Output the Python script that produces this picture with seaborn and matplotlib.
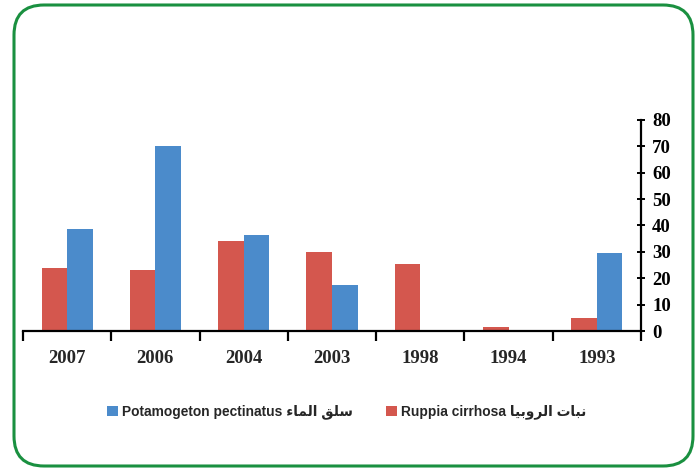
import pandas as pd
import seaborn as sns
import matplotlib.pyplot as plt
from matplotlib.patches import FancyBboxPatch, Patch

# data
years = ['2007', '2006', '2004', '2003', '1998', '1994', '1993']
ruppia = [24, 23, 34, 30, 25.5, 1.5, 5]
potamogeton = [38.5, 70, 36.5, 17.5, 0, 0, 29.5]
yticks = [0, 10, 20, 30, 40, 50, 60, 70, 80]

# Arabic written in presentation forms, visual order (no shaping in matplotlib)
ar_potamogeton = '\uFE80\uFE8E\uFEE4\uFEDF\uFE8D \uFED6\uFEE0\uFEB3'
ar_ruppia = '\uFE8E\uFEF4\uFE91\uFEED\uFEAE\uFEDF\uFE8D \uFE95\uFE8E\uFE92\uFEE7'
lab_ruppia = 'Ruppia cirrhosa ' + ar_ruppia
lab_pota = 'Potamogeton pectinatus ' + ar_potamogeton

df = pd.DataFrame({
    'year': years * 2,
    'value': ruppia + potamogeton,
    'species': [lab_ruppia] * len(years) + [lab_pota] * len(years),
})

sns.set_style('white')
plt.rcParams['font.family'] = ['Liberation Sans', 'DejaVu Sans']

red = '#D4574E'
blue = '#4B8BCB'

fig = plt.figure(figsize=(6.97, 4.69), dpi=100)
ax = fig.add_axes([23 / 697, 1 - 331 / 469, (641 - 23) / 697, (331 - 120) / 469])

sns.barplot(data=df, x='year', y='value', hue='species', order=years,
            hue_order=[lab_ruppia, lab_pota], palette=[red, blue],
            width=0.58, gap=0, saturation=1, linewidth=0, ax=ax, legend=False)

ax.set_ylim(0, 80)
ax.set_xlim(-0.5, len(years) - 0.5)
ax.set_xlabel('')
ax.set_ylabel('')
ax.set_yticks(yticks)

for s in ['top', 'left']:
    ax.spines[s].set_visible(False)
for s in ['bottom', 'right']:
    ax.spines[s].set_color('black')
    ax.spines[s].set_linewidth(1.6)

ax.yaxis.tick_right()
ax.tick_params(axis='y', direction='inout', length=6, width=1.4, pad=5,
               colors='black', right=True)
ax.tick_params(axis='x', which='major', length=0, pad=14)
ax.set_xticks([i - 0.5 for i in range(len(years) + 1)], minor=True)
ax.tick_params(axis='x', which='minor', direction='out', length=7, width=1.6,
               color='black', bottom=True)

for t in ax.get_xticklabels() + ax.get_yticklabels():
    t.set_fontfamily(['Liberation Serif'])
    t.set_fontweight('bold')
    t.set_fontsize(13.5)

handles = [Patch(facecolor=blue, edgecolor='none'), Patch(facecolor=red, edgecolor='none')]
fig.legend(handles, [lab_pota, lab_ruppia], loc='center', ncol=2,
           bbox_to_anchor=(347 / 697, 1 - 412 / 469), frameon=False,
           prop=dict(family=['Liberation Sans', 'DejaVu Sans'], weight='bold', size=9.9),
           handlelength=0.8, handleheight=0.8, handletextpad=0.3, columnspacing=2.4)

# rounded green frame around the whole chart
over = fig.add_axes([0, 0, 1, 1], facecolor='none')
over.set_xlim(0, 697)
over.set_ylim(469, 0)
over.axis('off')
over.add_patch(FancyBboxPatch((14, 5), 679, 461,
                              boxstyle='round,pad=0,rounding_size=30',
                              facecolor='none', edgecolor='#1A9040', linewidth=2.2))

plt.savefig('out.png', dpi=100)
